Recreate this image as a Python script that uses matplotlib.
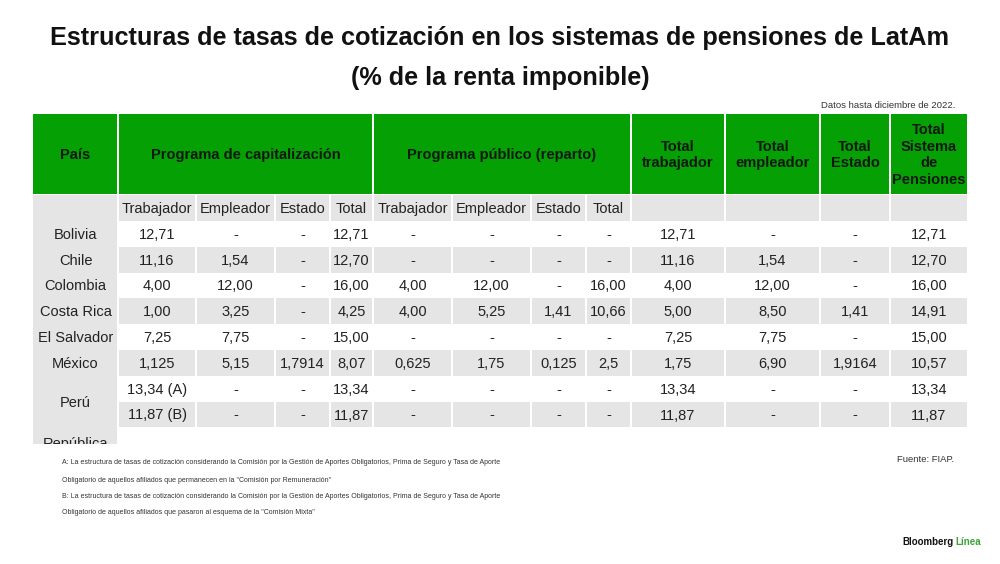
import matplotlib.pyplot as plt
from matplotlib.patches import Rectangle

plt.rcParams['font.family'] = ['Liberation Sans', 'DejaVu Sans']

# datos (tasas en % de la renta imponible), Perú ocupa dos filas: (A) y (B)
paises = ['Bolivia', 'Chile', 'Colombia', 'Costa Rica', 'El Salvador', 'México', 'Perú', 'República']
cap_trabajador = ['12,71', '11,16', '4,00', '1,00', '7,25', '1,125', '13,34 (A)', '11,87 (B)']
cap_empleador = ['-', '1,54', '12,00', '3,25', '7,75', '5,15', '-', '-']
cap_estado = ['-', '-', '-', '-', '-', '1,7914', '-', '-']
cap_total = ['12,71', '12,70', '16,00', '4,25', '15,00', '8,07', '13,34', '11,87']
pub_trabajador = ['-', '-', '4,00', '4,00', '-', '0,625', '-', '-']
pub_empleador = ['-', '-', '12,00', '5,25', '-', '1,75', '-', '-']
pub_estado = ['-', '-', '-', '1,41', '-', '0,125', '-', '-']
pub_total = ['-', '-', '16,00', '10,66', '-', '2,5', '-', '-']
tot_trabajador = ['12,71', '11,16', '4,00', '5,00', '7,25', '1,75', '13,34', '11,87']
tot_empleador = ['-', '1,54', '12,00', '8,50', '7,75', '6,90', '-', '-']
tot_estado = ['-', '-', '-', '1,41', '-', '1,9164', '-', '-']
tot_sistema = ['12,71', '12,70', '16,00', '14,91', '15,00', '10,57', '13,34', '11,87']

columnas = [cap_trabajador, cap_empleador, cap_estado, cap_total,
            pub_trabajador, pub_empleador, pub_estado, pub_total,
            tot_trabajador, tot_empleador, tot_estado, tot_sistema]
subtitulos = ['Trabajador', 'Empleador', 'Estado', 'Total'] * 2
encabezados = [(0, 1, 'País'),
               (1, 5, 'Programa de capitalización'),
               (5, 9, 'Programa público (reparto)'),
               (9, 10, 'Total\ntrabajador'),
               (10, 11, 'Total\nempleador'),
               (11, 12, 'Total\nEstado'),
               (12, 13, 'Total\nSistema\nde\nPensiones')]
notas = ['A: La estructura de tasas de cotización considerando la Comisión por la Gestión de Aportes Obligatorios, Prima de Seguro y Tasa de Aporte',
         'Obligatorio de aquellos afiliados que permanecen en la "Comisión por Remuneración"',
         'B: La estructura de tasas de cotización considerando la Comisión por la Gestión de Aportes Obligatorios, Prima de Seguro y Tasa de Aporte',
         'Obligatorio de aquellos afiliados que pasaron al esquema de la "Comisión Mixta"']

# maquetación en píxeles
bordes = [33, 118, 196, 275, 330, 373, 452, 531, 586, 631, 725, 820, 890, 968]
enc_top, enc_bot = 114, 194
sub_top, fila0, alto = 195, 221, 25.8
fondo = 444
verde = '#04a004'
gris = '#e5e5e5'
texto = '#222222'
estrecha = ['Liberation Sans Narrow', 'Liberation Sans', 'DejaVu Sans']

fig = plt.figure(figsize=(10, 5.64), dpi=100)
ax = fig.add_axes([0, 0, 1, 1])
ax.set_xlim(0, 1000)
ax.set_ylim(564, 0)
ax.axis('off')

# encabezado verde
for i, j, lab in encabezados:
    x0 = bordes[i] + (1 if i > 0 else 0)
    x1 = bordes[j] - 1
    ax.add_patch(Rectangle((x0, enc_top), x1 - x0, enc_bot - enc_top, color=verde, lw=0))
    ax.text((x0 + x1) / 2, (enc_top + enc_bot) / 2 + 1, lab, ha='center', va='center',
            fontsize=10.5, fontweight='bold', color='#101810', linespacing=1.25)

# columna de países
ax.add_patch(Rectangle((bordes[0], sub_top), bordes[1] - 1 - bordes[0], fondo - sub_top, color=gris, lw=0))

# fila de subtítulos
for c in range(1, 13):
    x0, x1 = bordes[c] + 1, bordes[c + 1] - 1
    ax.add_patch(Rectangle((x0, sub_top), x1 - x0, fila0 - sub_top - 0.5, color=gris, lw=0))
    if c <= 8:
        ax.text((x0 + x1) / 2, (sub_top + fila0) / 2 + 1, subtitulos[c - 1], ha='center',
                va='center', fontsize=10.5, color=texto)

# filas de datos
n = len(cap_trabajador)
for r in range(n):
    y0 = fila0 + r * alto
    for c in range(1, 13):
        x0, x1 = bordes[c] + 1, bordes[c + 1] - 1
        if r % 2 == 1:
            ax.add_patch(Rectangle((x0, y0), x1 - x0, alto, color=gris, lw=0))
        ax.text((x0 + x1) / 2, y0 + alto / 2 + 1, columnas[c - 1][r], ha='center',
                va='center', fontsize=10.5, color=texto)

# nombres de países (Perú combinado en dos filas)
xc = (bordes[0] + bordes[1]) / 2
for k, p in enumerate(paises[:6]):
    ax.text(xc, fila0 + k * alto + alto / 2 + 1, p, ha='center', va='center', fontsize=10.5, color=texto)
ax.text(xc, fila0 + 7 * alto + 1, paises[6], ha='center', va='center', fontsize=10.5, color=texto)
ax.text(xc, fila0 + 8 * alto + alto / 2 + 4, paises[7], ha='center', va='center',
        fontsize=10.5, color=texto, zorder=2)
# la tabla original está cortada: tapar la parte inferior de "República"
ax.add_patch(Rectangle((bordes[0] - 2, fondo), bordes[1] - bordes[0] + 4, 14, color='white', lw=0, zorder=3))

renderer = fig.canvas.get_renderer()


def ajustar(t, ancho):
    w = t.get_window_extent(renderer).width
    t.set_fontsize(t.get_fontsize() * ancho / w)


# título
t1 = ax.text(500, 38, 'Estructuras de tasas de cotización en los sistemas de pensiones de LatAm',
             ha='center', va='center', fontsize=17, fontweight='bold', color='#111111', family=estrecha)
ajustar(t1, 906)
ax.text(500, 78, '(% de la renta imponible)', ha='center', va='center',
        fontsize=t1.get_fontsize(), fontweight='bold', color='#111111', family=estrecha)

ax.text(955, 105, 'Datos hasta diciembre de 2022.', ha='right', va='center', fontsize=6.8, color='#333333')

# notas
n1 = ax.text(62, 463, notas[0], ha='left', va='center', fontsize=6, color='#333333', family=estrecha)
ajustar(n1, 443)
for k, y in enumerate([480, 497, 513]):
    ax.text(62, y, notas[k + 1], ha='left', va='center', fontsize=n1.get_fontsize(),
            color='#333333', family=estrecha)

ax.text(954, 459, 'Fuente: FIAP.', ha='right', va='center', fontsize=6.8, color='#333333')

b = ax.text(902, 542, 'Bloomberg', ha='left', va='center', fontsize=7, fontweight='bold', color='#111111')
wb = b.get_window_extent(renderer).width
ax.text(902 + wb + 2.5, 542, 'Línea', ha='left', va='center', fontsize=7, fontweight='bold', color='#3aa53a')

fig.savefig('out.png', dpi=100)
